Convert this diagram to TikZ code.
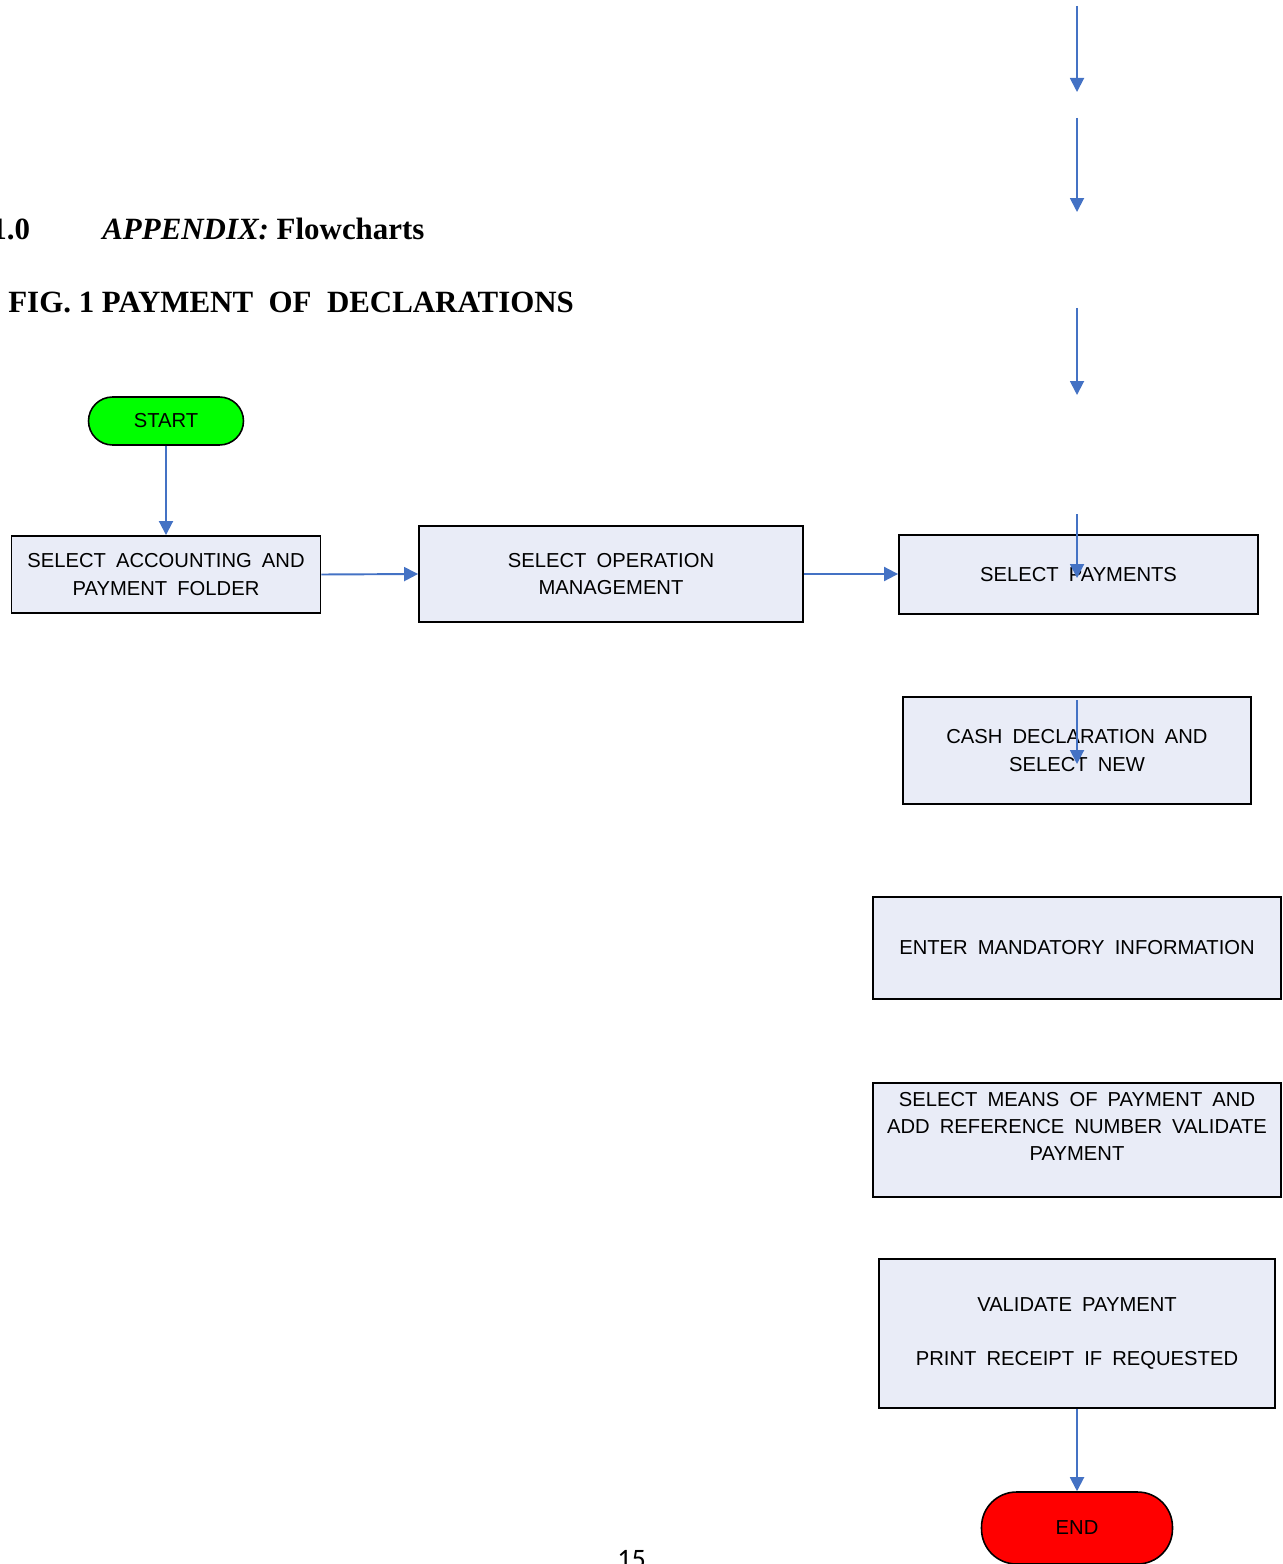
\documentclass[tikz,border=0pt]{standalone}
\usepackage{fontspec}
\setmainfont{Liberation Sans}[WordSpace=1.8]
\newfontfamily\titlefont{Liberation Serif}
\newfontfamily\pagefont{Carlito}
\usepackage{tikz}
\usetikzlibrary{calc}
\usetikzlibrary{shapes,arrows.meta}

\definecolor{flowblue}{RGB}{68,114,196}
\definecolor{boxfill}{RGB}{233,236,247}

\tikzset{
	procbox/.style={draw=black, line width=1.1pt, fill=boxfill, align=center, inner sep=2pt,
		font=\fontsize{11.5}{15.5}\selectfont},
	termbox/.style={draw=black, line width=0.9pt, rounded corners=0.48cm, align=center,
		font=\fontsize{11.5}{15.5}\selectfont},
	flowline/.style={draw=flowblue, line width=1.1pt, -{Triangle[length=0.28cm,width=0.28cm]}}
}

\begin{document}
\begin{tikzpicture}[x=0.02cm,y=-0.02cm]
				\useasboundingbox (0,0) rectangle (1283,1564);
				
				% headings
				\node[anchor=base west, inner sep=0, font=\titlefont\fontsize{17.6}{20}\selectfont\bfseries] (SecNum) at (-9,240) {1.0};
				\node[anchor=base west, inner sep=0, font=\titlefont\fontsize{17.6}{20}\selectfont\bfseries] (SecTitle) at (102,240) {\textit{APPENDIX:} Flowcharts};
				\node[anchor=base west, inner sep=0, font=\titlefont\fontsize{17.6}{20}\selectfont\bfseries] (FigTitle) at (8,313) {FIG. 1 PAYMENT\ \ OF\ \ DECLARATIONS};
				
				% terminals
				\node[termbox, fill=green, minimum width=3.1cm, minimum height=0.96cm] (Start) at (166,421) {START};
				\node[termbox, fill=red, rounded corners=0.7cm, minimum width=3.82cm, minimum height=1.44cm] (End) at (1077,1528) {END};
				
				% process boxes
				\node[procbox, minimum width=6.18cm, minimum height=1.54cm] (Folder) at (166,574.5) {SELECT ACCOUNTING AND\\PAYMENT FOLDER};
				\node[procbox, minimum width=7.68cm, minimum height=1.92cm] (Operation) at (611,574) {SELECT OPERATION\\MANAGEMENT};
				\node[procbox, minimum width=7.18cm, minimum height=1.58cm] (Payments) at (1078.5,574.5) {SELECT PAYMENTS};
				\node[procbox, minimum width=6.96cm, minimum height=2.14cm] (CashDecl) at (1077,750.5) {CASH DECLARATION AND\\SELECT NEW};
				\node[procbox, minimum width=8.16cm, minimum height=2.04cm] (Mandatory) at (1077,948) {ENTER MANDATORY INFORMATION};
				\node[procbox, minimum width=8.16cm, minimum height=2.28cm] (Means) at (1077,1140) {SELECT MEANS OF PAYMENT AND\\ADD REFERENCE NUMBER VALIDATE\\PAYMENT\\[0pt]};
				\node[procbox, minimum width=7.92cm, minimum height=2.98cm] (Validate) at (1077,1333.5) {VALIDATE PAYMENT\\[0.52cm]PRINT RECEIPT IF REQUESTED};
				
				% page number
				\node[anchor=base west, inner sep=0, font=\pagefont\fontsize{16}{18}\selectfont] (PageNum) at (617,1568) {15};
				
				% loose arrows on the right column
				\coordinate (StrayATop) at (1077,6);
				\coordinate (StrayABot) at (1077,92);
				\coordinate (StrayBTop) at (1077,118);
				\coordinate (StrayBBot) at (1077,212);
				\coordinate (StrayCTop) at (1077,308);
				\coordinate (StrayCBot) at (1077,395);
				\coordinate (StrayDTop) at (1077,514);
				\coordinate (StrayDBot) at (1077,578);
				\coordinate (StrayETop) at (1077,700);
				\coordinate (StrayEBot) at (1077,764);
				
				% connectors
				\draw[flowline] (Start.south) -- (Folder.north);
				\draw[flowline] (Folder.east) -- (Operation.west);
				\draw[flowline] (Operation.east) -- (Operation.east -| Payments.west);
				\draw[flowline] (Validate.south) -- (End.north);
				\draw[flowline] (StrayATop) -- (StrayABot);
				\draw[flowline] (StrayBTop) -- (StrayBBot);
				\draw[flowline] (StrayCTop) -- (StrayCBot);
				\draw[flowline] (StrayDTop) -- (StrayDBot);
				\draw[flowline] (StrayETop) -- (StrayEBot);
				
\end{tikzpicture}
\end{document}
